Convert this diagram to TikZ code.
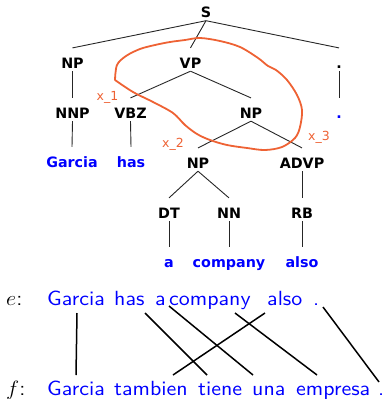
\documentclass[tikz,border=0pt]{standalone}
\usepackage{fontspec}
\usepackage{graphicx}
\newfontfamily\treefont{DejaVu Sans}
\newfontfamily\sentfont{lmsans10-regular.otf}
\usetikzlibrary{calc}
\definecolor{loopred}{RGB}{238,98,52}
\newcommand{\treeedge}[2]{\draw[branch] ([yshift=-3pt]#1.south) -- ([yshift=9.5pt]#2.north);}
\newcommand{\wideword}[1]{\scalebox{1.07}[1]{#1}}
\begin{document}
\begin{tikzpicture}[x=1pt,y=-1pt,
  tag/.style={font=\treefont\bfseries\fontsize{14.3}{16}\selectfont,
    inner sep=0pt, text height=10.4pt, text depth=0pt, anchor=base},
  leaf/.style={tag, text=blue},
  branch/.style={line width=0.9pt, black!85},
  var/.style={font=\treefont\fontsize{12.5}{14}\selectfont, text=loopred,
    inner sep=0pt, anchor=base},
  sent/.style={font=\sentfont\fontsize{20.5}{24}\selectfont, inner sep=0pt,
    anchor=base west},
  eword/.style={sent, text=blue},
  link/.style={line width=1.5pt, black},
]
\useasboundingbox (0,0) rectangle (387,399);

% parse tree
\node[tag] (S) at (206,17.5) {S};
\node[tag] (NPa) at (72.5,68) {NP};
\node[tag] (VP) at (190.5,68) {VP};
\node[tag] (PUN) at (339,68) {.};
\node[tag] (NNP) at (72.5,118) {NNP};
\node[tag] (VBZ) at (130.5,118) {VBZ};
\node[tag] (NPb) at (251,118) {NP};
\node[leaf] (DOT) at (339,118) {.};
\node[leaf] (GAR) at (72,167) {Garcia};
\node[leaf] (HAS) at (131,167) {has};
\node[tag] (NPc) at (198,168) {NP};
\node[tag] (ADVP) at (302,168) {ADVP};
\node[tag] (DT) at (169,218) {DT};
\node[tag] (NN) at (229,218) {NN};
\node[tag] (RB) at (302,218) {RB};
\node[leaf] (A) at (169,267) {a};
\node[leaf] (COMP) at (229,267) {company};
\node[leaf] (ALSO) at (302,267) {also};

\treeedge{S}{NPa}
\treeedge{S}{VP}
\treeedge{S}{PUN}
\treeedge{NPa}{NNP}
\treeedge{VP}{VBZ}
\treeedge{VP}{NPb}
\treeedge{PUN}{DOT}
\treeedge{NNP}{GAR}
\treeedge{VBZ}{HAS}
\treeedge{NPb}{NPc}
\treeedge{NPb}{ADVP}
\treeedge{NPc}{DT}
\treeedge{NPc}{NN}
\treeedge{ADVP}{RB}
\treeedge{DT}{A}
\treeedge{NN}{COMP}
\treeedge{RB}{ALSO}

% hand-drawn loop around the VP fragment, pointed at its left end
\draw[loopred, line width=1.8pt, line join=round, line cap=round]
  plot[smooth, tension=0.55] coordinates {
    (115,80) (117,65) (126,56) (140,49) (155,45) (170,42) (185,40)
    (200,38) (220,41) (240,47) (258,58) (268,66) (276,70) (287,80) (297,95)
    (302,110) (300,127) (295,138) (282,147) (265,150) (247,148)
    (227,145) (210,140) (197,134) (185,125) (173,113) (153,102)
    (133,92) (115,80)};
\node[var] (X1) at (107.5,100) {x\_1};
\node[var] (X2) at (173,147) {x\_2};
\node[var] (X3) at (319,140) {x\_3};

% word alignment
\node[sent] (eLab) at (6,305) {\wideword{$e$:}};
\node[eword] (eGar) at (47,305) {\wideword{Garcia}};
\node[eword] (eHas) at (114,305) {\wideword{has}};
\node[eword] (eA) at (155,305) {\wideword{a}};
\node[eword] (eComp) at (169,305) {\wideword{company}};
\node[eword] (eAlso) at (267,305) {\wideword{also}};
\node[eword] (eDot) at (313,305) {\wideword{.}};

\node[sent] (fLab) at (6,395) {\wideword{$f$:}};
\node[eword] (fGar) at (47,395) {\wideword{Garcia}};
\node[eword] (fTam) at (114,395) {\wideword{tambien}};
\node[eword] (fTie) at (198,395) {\wideword{tiene}};
\node[eword] (fUna) at (252,395) {\wideword{una}};
\node[eword] (fEmp) at (296,395) {\wideword{empresa}};
\node[eword] (fDot) at (378,395) {\wideword{.}};

\draw[link] ($(eGar.base west)+(30,8)$) -- ($(fGar.base west)+(29,-20)$);
\draw[link] ($(eHas.base west)+(31,8)$) -- ($(fTie.base west)+(9,-20)$);
\draw[link] ($(eA.base west)+(14,1)$) -- ($(fUna.base west)+(1,-20)$);
\draw[link] ($(eComp.base west)+(66,8)$) -- ($(fEmp.base west)+(21,-20)$);
\draw[link] ($(eAlso.base west)+(-2,8)$) -- ($(fTam.base west)+(59,-20)$);
\draw[link] ($(eDot.base west)+(10,2)$) -- ($(fDot.base west)+(1,-13)$);
\end{tikzpicture}
\end{document}
